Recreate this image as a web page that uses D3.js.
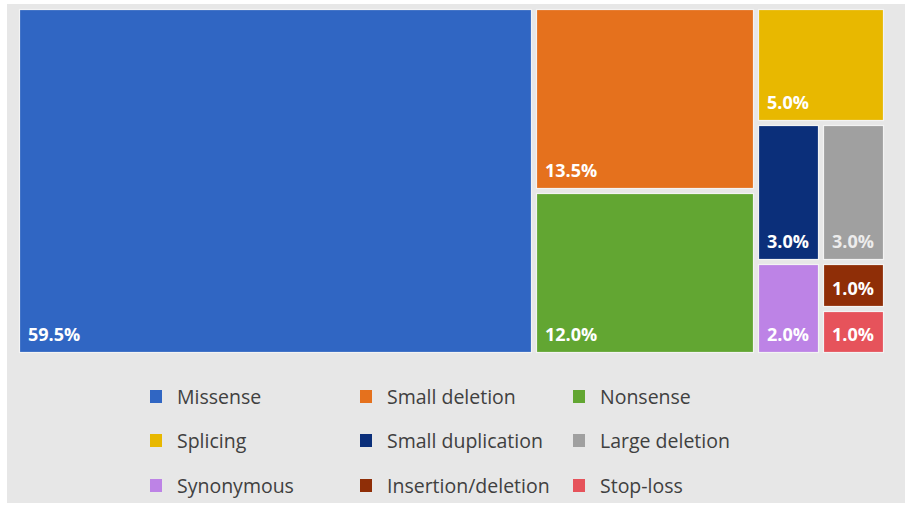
<!DOCTYPE html>
<html>
<head>
<meta charset="utf-8">
<script src="https://cdn.jsdelivr.net/npm/d3@7"></script>
<style>
  body { margin: 0; background: #fff; }
</style>
</head>
<body>
<div id="chart"></div>
<script>
// mutation types, share of variants (%)
const categories = ["Missense", "Small deletion", "Nonsense", "Splicing", "Small duplication",
  "Large deletion", "Synonymous", "Insertion/deletion", "Stop-loss"]
const values = [59.5, 13.5, 12.0, 5.0, 3.0, 3.0, 2.0, 1.0, 1.0]
const colors = ["#3066c3", "#e5711d", "#62a632", "#e8b800", "#0b2f7a",
  "#a0a0a0", "#bd83e6", "#8f2e07", "#e6535b"]
// how the blocks are nested (index into categories)
const layoutGroups = [[0], [1, 2], [3, [[4, 6], [5, 7, 8]]]]

const svgWidth = 910
const svgHeight = 506

let svg = d3.select("#chart")
  .append("svg")
  .attr("width", svgWidth)
  .attr("height", svgHeight)

// grey panel
svg.append("rect")
  .attr("x", 7).attr("y", 4)
  .attr("width", 898).attr("height", 499)
  .attr("fill", "#e7e7e7")

// build hierarchy from the nesting
function toNode(item) {
  if (Array.isArray(item)) return { children: item.map(toNode) }
  return { name: categories[item], value: values[item], color: colors[item] }
}
let root = d3.hierarchy({ children: layoutGroups.map(toNode) })
  .sum(d => d.value || 0)

d3.treemap()
  .tile(d3.treemapSliceDice)
  .size([865, 344])
  .paddingInner(4)
  .round(true)(root)

let chartGroup = svg.append("g")
  .attr("transform", "translate(19, 9)")

let cells = chartGroup.selectAll("g.cell")
  .data(root.leaves())
  .enter()
  .append("g")
  .classed("cell", true)
  .attr("transform", d => `translate(${d.x0}, ${d.y0})`)

cells.append("rect")
  .attr("x", 0.5).attr("y", 0.5)
  .attr("width", d => d.x1 - d.x0 - 1)
  .attr("height", d => d.y1 - d.y0 - 1)
  .attr("fill", d => d.data.color)
  .attr("stroke", "#f3f3f3")
  .attr("stroke-width", 1.2)

cells.append("text")
  .attr("x", 9)
  .attr("y", d => d.y1 - d.y0 - 12)
  .attr("font-family", "'Open Sans', sans-serif")
  .attr("font-weight", "bold")
  .attr("font-size", 18)
  .attr("fill", d => d.data.name === "Large deletion" ? "#ececec" : "#fff")
  .text(d => d.data.value.toFixed(1) + "%")

// legend, 3 columns
let legend = svg.append("g")
let colX = [150, 360, 573]
let rowY = [397, 441, 486]
categories.forEach((c, i) => {
  let lx = colX[i % 3]
  let ly = rowY[Math.floor(i / 3)]
  legend.append("rect")
    .attr("x", lx).attr("y", ly - 7)
    .attr("width", 12).attr("height", 13)
    .attr("fill", colors[i])
  legend.append("text")
    .attr("x", lx + 27).attr("y", ly + 7)
    .attr("font-family", "'Open Sans', sans-serif")
    .attr("font-size", 19.5)
    .attr("fill", "#404040")
    .text(c)
})
</script>
</body>
</html>
